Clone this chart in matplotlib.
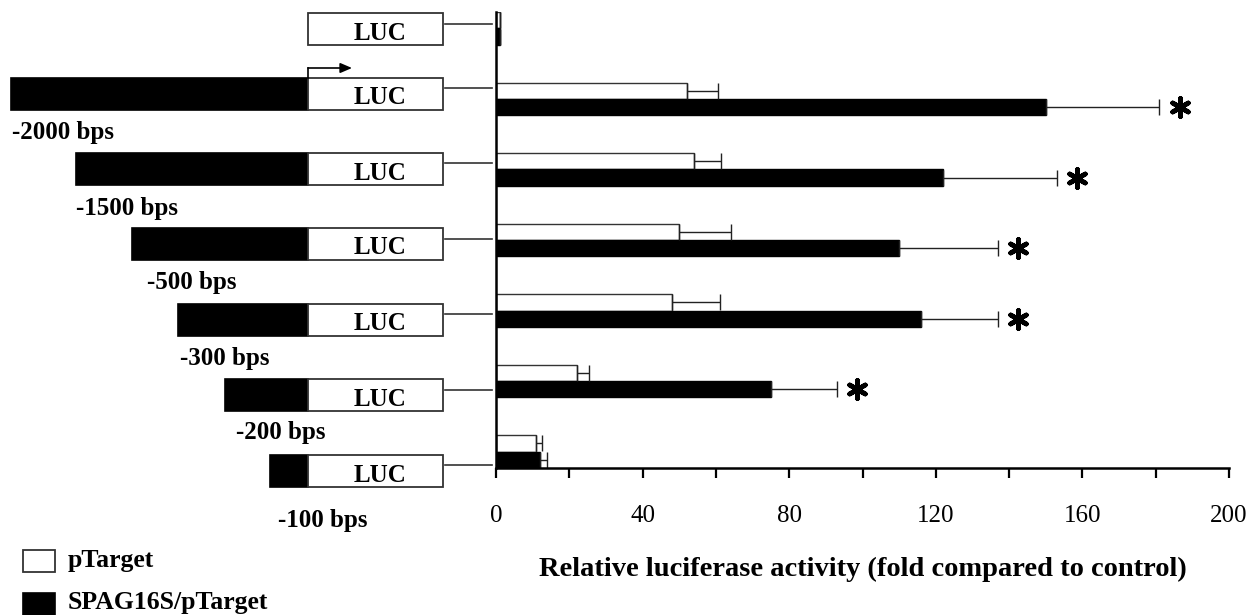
import numpy as np
import matplotlib.pyplot as plt
from matplotlib.patches import Rectangle

# ====> data
constructs = ['', '-2000 bps', '-1500 bps', '-500 bps', '-300 bps', '-200 bps', '-100 bps']
ptarget = [1, 52, 54, 50, 48, 22, 11]
ptarget_err = [0, 8.5, 7.5, 14, 13, 3.5, 1.5]
spag16s = [1, 150, 122, 110, 116, 75, 12]
spag16s_err = [0, 31, 31, 27, 21, 18, 2]
significant = [False, True, True, True, True, True, False]
series_names = ['pTarget', 'SPAG16S/pTarget']
xticks = [0, 40, 80, 120, 160, 200]

plt.rcParams['font.family'] = ['Liberation Serif', 'DejaVu Serif']

W, H = 1259, 615
fig = plt.figure(figsize=(W / 100, H / 100), dpi=100)

# ====> promoter constructs, drawn in pixel coordinates
dax = fig.add_axes([0, 0, 1, 1])
dax.set_xlim(0, W)
dax.set_ylim(H, 0)
dax.axis('off')

row_tops = [13, 78, 153, 228, 304, 379, 455]
promoter_left = [None, 11, 76, 132, 178, 225, 270]
label_x = [None, 12, 76, 147, 180, 236, 278]
label_y = [None, 133, 208, 283, 358, 433, 520]
link_y = [24, 88, 163, 239, 314, 390, 465]
luc_left, luc_right, box_h = 308, 443, 32

for i, top in enumerate(row_tops):
    if promoter_left[i] is not None:
        dax.add_patch(Rectangle((promoter_left[i], top), luc_left - promoter_left[i], box_h,
                                facecolor='black', edgecolor='black', lw=1.2))
        dax.text(label_x[i], label_y[i], constructs[i], fontsize=18, fontweight='bold',
                 ha='left', va='center')
    dax.add_patch(Rectangle((luc_left, top), luc_right - luc_left, box_h,
                            facecolor='white', edgecolor='#333333', lw=1.3))
    dax.text(380, top + box_h / 2 + 4, 'LUC', fontsize=18, fontweight='bold',
             ha='center', va='center')
    dax.plot([luc_right + 2, 492], [link_y[i], link_y[i]], color='#333333', lw=1.2)

# transcription start arrow
dax.plot([luc_left, luc_left], [row_tops[1], 68], color='black', lw=1.2)
dax.annotate('', xy=(352, 68), xytext=(luc_left, 68),
             arrowprops=dict(arrowstyle='-|>,head_length=0.7,head_width=0.3',
                             color='black', lw=1.2, shrinkA=0, shrinkB=0))

# legend
dax.add_patch(Rectangle((23, 550), 32, 22, facecolor='white', edgecolor='#333333', lw=1.3))
dax.add_patch(Rectangle((23, 593), 32, 22, facecolor='black', edgecolor='black', lw=1.2))
dax.text(68, 561, series_names[0], fontsize=18.5, fontweight='bold', va='center')
dax.text(68, 603, series_names[1], fontsize=18.5, fontweight='bold', va='center')

# ====> bar chart
ax = fig.add_axes([496 / W, 1 - 468 / H, (1229 - 496) / W, (468 - 12) / H])
ax.patch.set_alpha(0)
n = len(constructs)
y = np.arange(n)
h = 0.234
ekw = dict(ecolor='#222222', elinewidth=1.0, capsize=6, capthick=1.0)
ax.barh(y - h / 2, ptarget, height=h, color='white', edgecolor='#333333', lw=1.0,
        xerr=[np.zeros(n), ptarget_err], error_kw=ekw)
ax.barh(y + h / 2, spag16s, height=h, color='black', edgecolor='black', lw=1.0,
        xerr=[np.zeros(n), spag16s_err], error_kw=ekw)

for i in range(n):
    if significant[i]:
        ax.scatter(spag16s[i] + spag16s_err[i] + 5.5, y[i] + h / 2, marker=(6, 2, 0),
                   s=170, linewidths=3.4, color='black', clip_on=False)

ax.set_xlim(0, 200)
ax.set_ylim(n - 1 + h, -h)
ax.set_yticks([])
ax.set_xticks(xticks)
ax.set_xticks(np.arange(20, 200, 40), minor=True)
ax.tick_params(axis='x', which='both', direction='out', length=7, width=1.6,
               labelsize=18, pad=20)
for side in ['top', 'right']:
    ax.spines[side].set_visible(False)
for side in ['left', 'bottom']:
    ax.spines[side].set_linewidth(1.8)
ax.set_xlabel('Relative luciferase activity (fold compared to control)',
              fontsize=20.5, fontweight='bold', labelpad=21)

plt.savefig('out.png', dpi=100)
plt.close()
